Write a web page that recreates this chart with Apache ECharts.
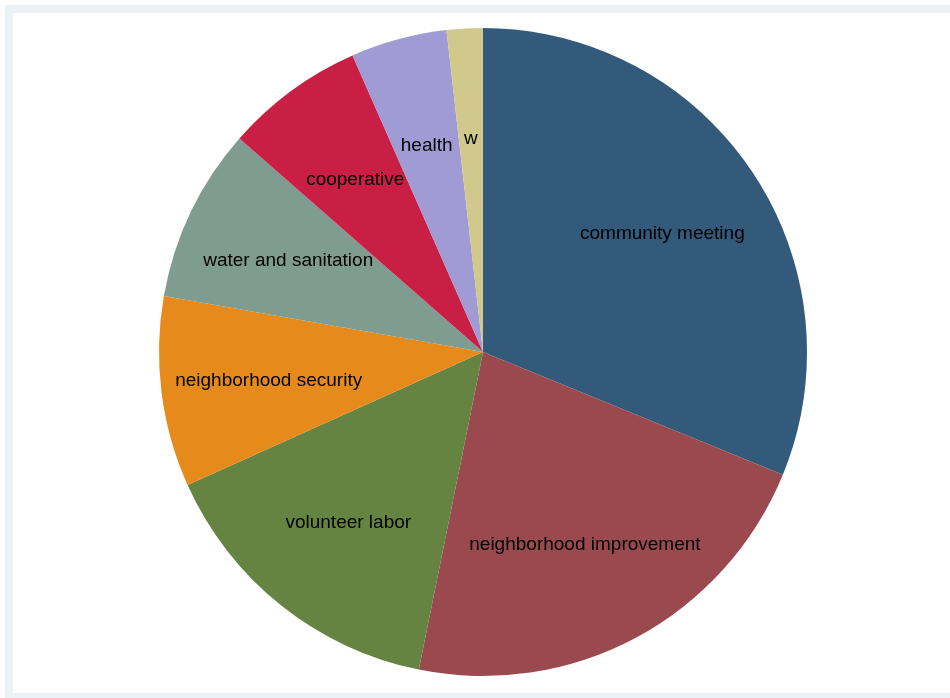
<!DOCTYPE html>
<html>
<head>
<meta charset="utf-8">
<script src="https://cdn.jsdelivr.net/npm/echarts@6/dist/echarts.min.js"></script>
<style>
html,body{margin:0;padding:0;background:#fff;}
#chart{width:950px;height:698px;}
</style>
</head>
<body>
<div id="chart"></div>
<script>
var categories = ["community meeting","neighborhood improvement","volunteer labor","neighborhood security","water and sanitation","cooperative","health","w"];
var values = [31.2, 22.0, 15.1, 9.5, 8.7, 6.95, 4.8, 1.8];
var colors = ["#335a7b","#9a4a4f","#658442","#e68b1b","#7f9c90","#c91f45","#a09ad5","#d1c88c"];

var chart = echarts.init(document.getElementById('chart'), null, {renderer:'canvas'});
var pieData = categories.map(function(c,i){return {name:c, value:values[i], itemStyle:{color:colors[i]}};});
var labelData = categories.map(function(c,i){return {name:c, value:values[i]};});
chart.setOption({
  animation:false,
  backgroundColor:'#ffffff',
  graphic:[
    {type:'rect', shape:{x:5,y:5,width:960,height:700}, style:{fill:'#eaf2f3'}, z:-10},
    {type:'rect', shape:{x:13,y:13,width:950,height:680}, style:{fill:'#ffffff'}, z:-9}
  ],
  series:[
    {
      type:'pie', center:[483,352], radius:[0,324], startAngle:90, clockwise:true,
      silent:true, label:{show:false}, labelLine:{show:false},
      data:pieData
    },
    {
      type:'pie', center:[483,354], radius:[0,426], startAngle:90, clockwise:true,
      silent:true, avoidLabelOverlap:false, minShowLabelAngle:0,
      itemStyle:{color:'rgba(0,0,0,0)', borderWidth:0},
      label:{show:true, position:'inside', color:'#000', fontFamily:'Liberation Sans, Arial, sans-serif', fontSize:19, formatter:'{b}'},
      labelLine:{show:false},
      data:labelData
    }
  ]
});
</script>
</body>
</html>
